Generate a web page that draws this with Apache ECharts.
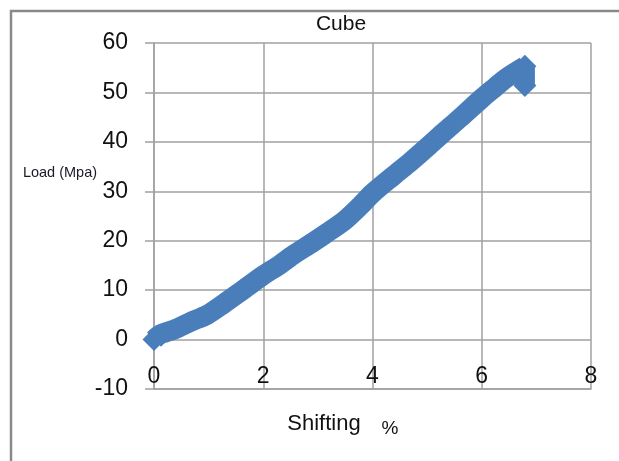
<!DOCTYPE html>
<html>
<head>
<meta charset="utf-8">
<script src="https://cdn.jsdelivr.net/npm/echarts@6/dist/echarts.min.js"></script>
<style>html,body{margin:0;padding:0;background:#fff}#c{width:619px;height:461px}</style>
</head>
<body>
<div id="c"></div>
<script>
const shifting = [0, 0.12, 0.36, 0.67, 0.97, 1.27, 1.6, 2.0, 2.31, 2.56, 2.9, 3.17, 3.5, 3.78, 4.0, 4.39, 4.7, 5.0, 5.3, 5.6, 6.0, 6.25, 6.46, 6.79, 6.79];
const load     = [0, 1.1, 2.0, 3.6, 5.0, 7.2, 9.8, 13.0, 15.2, 17.2, 19.6, 21.6, 24.2, 27.1, 29.6, 33.2, 36.0, 38.9, 41.9, 44.8, 48.8, 51.1, 53.0, 55.3, 51.4];
const xTicks = { min: 0, max: 8, step: 2 };
const yTicks = { min: -10, max: 60, step: 10 };
const titleText = 'Cube';
const yName = 'Load (Mpa)';
const xName = 'Shifting';
const xUnit = '%';

const FONT = '"Liberation Sans", Arial, sans-serif';
const grey = '#a0a0a0';
const blue = '#4a7ebb';
const pts = shifting.map((x, i) => [x, load[i]]);
const n = pts.length;
const mainPts = pts.slice(0, n - 1);
const endPts = pts.slice(n - 2);
const chart = echarts.init(document.getElementById('c'), null, { renderer: 'canvas' });
chart.setOption({
  animation: false,
  backgroundColor: '#fff',
  title: {
    text: titleText, left: 336, top: 9, textAlign: 'center',
    textStyle: { fontFamily: FONT, fontSize: 21, fontWeight: 'normal', color: '#111' }
  },
  grid: { left: 154, right: 28, top: 43, bottom: 72 },
  xAxis: {
    type: 'value', min: xTicks.min, max: xTicks.max, interval: xTicks.step,
    axisLine: { show: true, onZero: false, lineStyle: { color: grey, width: 1.5 } },
    axisTick: { show: false },
    axisLabel: { inside: true, margin: 1, fontFamily: FONT, fontSize: 23, color: '#111' },
    splitLine: { show: true, lineStyle: { color: grey, width: 1.5 } }
  },
  yAxis: {
    type: 'value', min: yTicks.min, max: yTicks.max, interval: yTicks.step,
    axisLine: { show: true, onZero: false, lineStyle: { color: grey, width: 1.5 } },
    axisTick: { show: true, length: 9, lineStyle: { color: grey, width: 1.5 } },
    axisLabel: { margin: 26, fontFamily: FONT, fontSize: 23, color: '#111' },
    splitLine: { show: true, lineStyle: { color: grey, width: 1.5 } }
  },
  graphic: [
    { type: 'polyline', shape: { points: [[11, 461], [11, 11], [619, 11]] },
      style: { stroke: '#8a8a8a', lineWidth: 2.5, fill: null }, silent: true },
    { type: 'text', x: 60, y: 173, style: { text: yName, fontFamily: FONT, fontSize: 14.5, fill: '#1a1a2a', align: 'center', verticalAlign: 'middle' } },
    { type: 'text', x: 324, y: 424, style: { text: xName, fontFamily: FONT, fontSize: 22, fill: '#111', align: 'center', verticalAlign: 'middle' } },
    { type: 'text', x: 390, y: 429, style: { text: xUnit, fontFamily: FONT, fontSize: 19, fill: '#111', align: 'center', verticalAlign: 'middle' } }
  ],
  series: [{
    type: 'line',
    data: mainPts,
    symbol: 'diamond',
    symbolSize: (v, p) => (p.dataIndex === 0) ? 23 : 0,
    showSymbol: true, showAllSymbol: true,
    itemStyle: { color: blue },
    lineStyle: { color: blue, width: 20, cap: 'butt', join: 'round' },
    smooth: 0.3, z: 3
  }, {
    type: 'line',
    data: endPts,
    symbol: 'diamond', symbolSize: 23,
    showSymbol: true, showAllSymbol: true,
    itemStyle: { color: blue },
    lineStyle: { color: blue, width: 20, cap: 'butt', join: 'round' },
    smooth: false, z: 3
  }]
});
</script>
</body>
</html>
